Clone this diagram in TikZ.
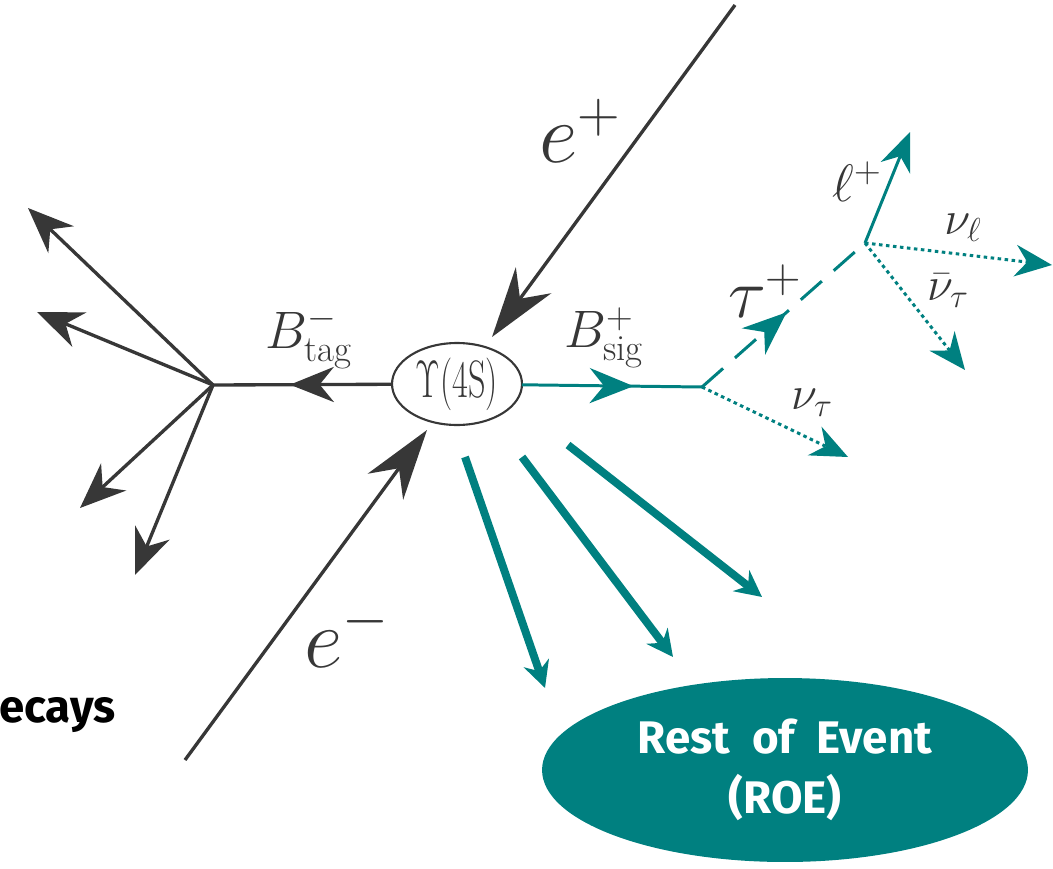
\RequirePackage{fix-cm}
\documentclass[tikz,border=0pt]{standalone}
\usepackage{fontspec}
\usepackage{graphicx}
\usetikzlibrary{arrows.meta,shapes.geometric,decorations.markings}
\newfontfamily\roefont{Fira Sans}
\definecolor{roeteal}{RGB}{0,128,128}
\definecolor{linegray}{RGB}{55,55,55}
\newcommand{\Ups}{\scalebox{0.65}[1]{$\Upsilon(\mathrm{4S})$}}

\begin{document}
\begin{tikzpicture}[
    x=0.02cm,y=-0.02cm,
    every node/.style={inner sep=0pt,outer sep=0pt},
    beam/.style={linegray,line width=1.9pt,-{Stealth[length=40pt,width=25pt]}},
    tagline/.style={linegray,line width=1.9pt},
    tagdecay/.style={tagline,-{Stealth[length=26pt,width=21pt]}},
    sigline/.style={roeteal,line width=1.7pt},
    nuline/.style={roeteal,line width=1.7pt,dash pattern=on 2pt off 2pt,
                   -{Stealth[length=21pt,width=18pt]}},
    roearrow/.style={roeteal,line width=4.5pt,-{Stealth[length=15pt,width=15pt]}},
    midarrow/.style={postaction={decorate,decoration={markings,
        mark=at position #1 with {\arrow{Stealth[length=25pt,width=20pt]}}}}},
    lbl/.style={text=linegray,font=\fontsize{30}{34}\selectfont},
    upsbox/.style={draw=linegray,line width=1.2pt,ellipse,
                   minimum width=2.6cm,minimum height=1.64cm,
                   text=linegray,font=\fontsize{30}{34}\selectfont},
    roebox/.style={ellipse,fill=roeteal,text=white,align=center,
                   minimum width=9.72cm,minimum height=3.68cm,
                   font=\roefont\bfseries\fontsize{26}{34}\selectfont}
]
\useasboundingbox (0,0) rectangle (1053,868);

\node[upsbox] (ups) at (457,384) {\Ups};
\node[roebox] (roe) at (785,770) {Rest~~of~~Event\\(ROE)};

\coordinate (tagv) at (213,385);
\coordinate (t1) at (28,208);
\coordinate (t2) at (37,312);
\coordinate (t3) at (80,508);
\coordinate (t4) at (135,575);
\coordinate (epin) at (735,5);
\coordinate (eptip) at (492,337);
\coordinate (emin) at (185,760);
\coordinate (emtip) at (427,430);
\coordinate (tauv) at (702,387);
\coordinate (lepv) at (865,243);
\coordinate (lep) at (910,132);
\coordinate (nul) at (1052,265);
\coordinate (nutb) at (965,370);
\coordinate (nut) at (848,457);
\coordinate (r1s) at (465,457);
\coordinate (r1e) at (545,688);
\coordinate (r2s) at (522,457);
\coordinate (r2e) at (673,657);
\coordinate (r3s) at (568,445);
\coordinate (r3e) at (762,597);

% tag side
\draw[tagline,midarrow=0.57] (ups) -- (tagv);
\foreach \t in {t1,t2,t3,t4}
    \draw[tagdecay] (tagv) -- (\t);

% beams
\draw[beam] (epin) -- (eptip);
\draw[beam] (emin) -- (emtip);

% signal side
\draw[sigline,midarrow=0.62] (ups) -- (tauv);
\draw[sigline,dash pattern=on 16pt off 9pt,midarrow=0.52] (tauv) -- (lepv);
\draw[sigline,-{Stealth[length=22pt,width=18pt]}] (lepv) -- (lep);
\draw[nuline] (lepv) -- (nul);
\draw[nuline] (lepv) -- (nutb);
\draw[nuline] (tauv) -- (nut);

% rest of event
\draw[roearrow] (r1s) -- (r1e);
\draw[roearrow] (r2s) -- (r2e);
\draw[roearrow] (r3s) -- (r3e);

\node[lbl,font=\fontsize{48}{52}\selectfont] (eplbl) at (580,131) {$e^+$};
\node[lbl,font=\fontsize{48}{52}\selectfont] (emlbl) at (347,635) {$e^-$};
\node[lbl] (taglbl) at (309,338) {$B^-_{\mathrm{tag}}$};
\node[lbl] (siglbl) at (604,338) {$B^+_{\mathrm{sig}}$};
\node[lbl,font=\fontsize{40}{44}\selectfont] (taulbl) at (765,291) {$\tau^+$};
\node[lbl] (leplbl) at (857,182) {$\ell^+$};
\node[lbl,font=\fontsize{27}{30}\selectfont] (nullbl) at (963,228) {$\nu_\ell$};
\node[lbl,font=\fontsize{27}{30}\selectfont] (nutblbl) at (948,291) {$\bar\nu_\tau$};
\node[lbl,font=\fontsize{27}{30}\selectfont] (nutlbl) at (812,403) {$\nu_\tau$};

\node[anchor=base west,font=\roefont\bfseries\fontsize{26}{30}\selectfont] (decays) at (-1,722) {ecays};
\end{tikzpicture}
\end{document}
